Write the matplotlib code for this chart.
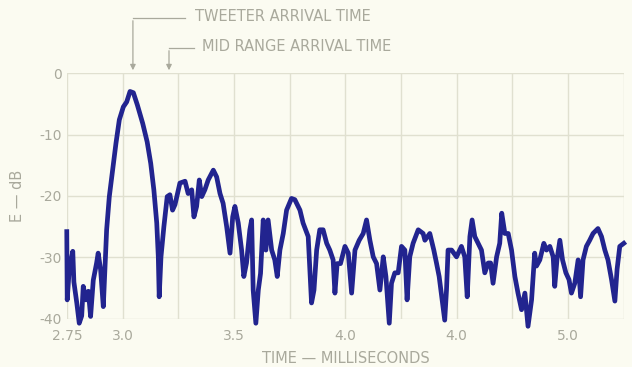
import matplotlib
matplotlib.use("Agg")
import matplotlib.pyplot as plt
from matplotlib.transforms import blended_transform_factory

# trace (time in ms, level in dB)
time_ms = [
    2.749, 2.751, 2.760, 2.776, 2.781, 2.794, 2.805, 2.816, 2.823, 2.835,
    2.846, 2.856, 2.868, 2.883, 2.890, 2.901, 2.913, 2.920, 2.928, 2.940,
    2.955, 2.970, 2.985, 3.003, 3.018, 3.033, 3.048, 3.066, 3.090, 3.110,
    3.126, 3.140, 3.153, 3.160, 3.164, 3.172, 3.185, 3.200, 3.212, 3.224,
    3.235, 3.250, 3.257, 3.280, 3.294, 3.310, 3.320, 3.332, 3.344, 3.355,
    3.369, 3.384, 3.407, 3.422, 3.437, 3.451, 3.467, 3.482, 3.494, 3.504,
    3.519, 3.534, 3.544, 3.556, 3.571, 3.579, 3.586, 3.598, 3.609, 3.619,
    3.631, 3.643, 3.653, 3.669, 3.683, 3.694, 3.706, 3.721, 3.736, 3.758,
    3.773, 3.796, 3.810, 3.833, 3.848, 3.859, 3.871, 3.885, 3.900, 3.916,
    3.930, 3.945, 3.953, 3.963, 3.978, 3.998, 4.013, 4.028, 4.043, 4.062,
    4.080, 4.095, 4.110, 4.125, 4.140, 4.155, 4.170, 4.182, 4.197, 4.207,
    4.222, 4.237, 4.252, 4.267, 4.277, 4.289, 4.304, 4.327, 4.349, 4.357,
    4.379, 4.397, 4.409, 4.421, 4.436, 4.446, 4.454, 4.461, 4.477, 4.499,
    4.521, 4.536, 4.547, 4.559, 4.569, 4.581, 4.596, 4.611, 4.626, 4.641,
    4.652, 4.663, 4.679, 4.693, 4.702, 4.716, 4.731, 4.746, 4.761, 4.775,
    4.791, 4.806, 4.820, 4.836, 4.850, 4.858, 4.873, 4.891, 4.903, 4.918,
    4.933, 4.940, 4.950, 4.963, 4.975, 4.990, 5.004, 5.015, 5.030, 5.045,
    5.056, 5.067, 5.082, 5.097, 5.112, 5.134, 5.150, 5.165, 5.179, 5.195,
    5.210, 5.220, 5.232, 5.250,
]
level_db = [
    -25.8, -36.9, -32.0, -29.0, -34.0, -37.4, -40.7, -39.5, -34.7, -36.9,
    -35.5, -39.6, -33.7, -30.9, -29.3, -32.0, -38.0, -32.0, -25.5, -20.1,
    -15.8, -11.4, -7.6, -5.5, -4.7, -3.0, -3.2, -5.2, -8.2, -11.2,
    -14.7, -19.0, -24.4, -29.9, -36.4, -29.9, -25.0, -20.1, -19.8, -22.3,
    -21.4, -19.0, -17.9, -17.6, -19.6, -19.0, -23.4, -21.7, -17.4, -20.1,
    -19.0, -17.4, -15.8, -16.9, -19.6, -21.2, -25.0, -29.3, -23.4, -21.7,
    -24.4, -28.8, -33.1, -30.9, -25.5, -23.9, -35.3, -40.7, -35.3, -32.6,
    -23.9, -28.8, -23.9, -28.8, -30.4, -33.1, -28.8, -26.1, -22.3, -20.4,
    -20.6, -22.3, -24.4, -26.6, -37.4, -35.3, -28.8, -25.5, -25.5, -27.7,
    -28.8, -30.4, -35.8, -31.0, -31.0, -28.2, -29.3, -35.8, -28.8, -27.2,
    -26.1, -23.9, -27.2, -29.9, -31.0, -35.3, -29.9, -33.1, -40.7, -34.2,
    -32.5, -32.5, -28.2, -28.8, -36.9, -29.9, -27.7, -25.5, -26.1, -27.2,
    -26.1, -28.8, -30.9, -33.1, -37.4, -40.2, -35.3, -28.8, -28.8, -29.9,
    -28.2, -29.9, -36.4, -26.6, -23.9, -26.6, -27.7, -28.8, -32.5, -30.9,
    -30.9, -34.2, -29.9, -27.7, -22.8, -26.1, -26.1, -28.8, -33.1, -35.8,
    -38.5, -35.8, -41.2, -36.9, -29.3, -31.4, -30.4, -27.7, -28.8, -28.2,
    -29.9, -34.7, -30.4, -27.2, -30.4, -32.5, -33.6, -35.8, -34.2, -30.4,
    -36.4, -30.4, -28.2, -27.2, -26.1, -25.3, -26.6, -28.8, -30.4, -33.6,
    -37.1, -31.9, -28.2, -27.7,
]

grid_x = [2.75, 3.0, 3.25, 3.5, 3.75, 4.0, 4.25, 4.5, 4.75, 5.0, 5.25]
xtick_pos = [2.75, 3.0, 3.5, 4.0, 4.5, 5.0]
xtick_labels = ["2.75", "3.0", "3.5", "4.0", "4.0", "5.0"]
ytick_pos = [0, -10, -20, -30, -40]
ytick_labels = ["0", "-10", "-20", "-30", "-40"]

tweeter_time = 3.046
midrange_time = 3.208

bg = "#fbfbf1"
grid_col = "#e0e0d0"
text_col = "#a9a99c"
line_col = "#22248f"

fig = plt.figure(figsize=(6.32, 3.67), dpi=100, facecolor=bg)
ax = fig.add_axes([0.106, 0.131, 0.881, 0.670], facecolor=bg)

ax.plot(time_ms, level_db, color=line_col, lw=3.4, solid_joinstyle="round",
        zorder=3, clip_on=False)

ax.set_xlim(2.75, 5.25)
ax.set_ylim(-40, 0)
for gx in grid_x:
    ax.axvline(gx, color=grid_col, lw=1, zorder=1)
for gy in ytick_pos:
    ax.axhline(gy, color=grid_col, lw=1, zorder=1)
for s in ax.spines.values():
    s.set_visible(False)

ax.set_xticks(xtick_pos)
ax.set_xticklabels(xtick_labels)
ax.set_yticks(ytick_pos)
ax.set_yticklabels(ytick_labels)
ax.tick_params(length=0, colors=text_col, labelsize=10)
ax.tick_params(axis="x", pad=7)
ax.tick_params(axis="y", pad=4)

ax.set_xlabel("TIME — MILLISECONDS", color=text_col, fontsize=10.5, labelpad=6)
ax.set_ylabel("E — dB", color=text_col, fontsize=10.5, labelpad=10)

# arrival time markers above the plot
tr = blended_transform_factory(ax.transData, ax.transAxes)
arrow_kw = dict(arrowstyle="-|>", color=text_col, lw=0.9, mutation_scale=8)
ax.annotate("", xy=(tweeter_time, 1.0), xycoords=tr,
            xytext=(tweeter_time, 1.224), textcoords=tr,
            arrowprops=arrow_kw, annotation_clip=False)
ax.plot([tweeter_time, 3.280], [1.224, 1.224], transform=tr,
        color=text_col, lw=0.9, clip_on=False)
ax.text(3.324, 1.228, "TWEETER ARRIVAL TIME", transform=tr, color=text_col,
        fontsize=10.5, va="center", ha="left")

ax.annotate("", xy=(midrange_time, 1.0), xycoords=tr,
            xytext=(midrange_time, 1.102), textcoords=tr,
            arrowprops=arrow_kw, annotation_clip=False)
ax.plot([midrange_time, 3.320], [1.102, 1.102], transform=tr,
        color=text_col, lw=0.9, clip_on=False)
ax.text(3.356, 1.106, "MID RANGE ARRIVAL TIME", transform=tr, color=text_col,
        fontsize=10.5, va="center", ha="left")

fig.savefig("out.png", dpi=100, facecolor=bg)
